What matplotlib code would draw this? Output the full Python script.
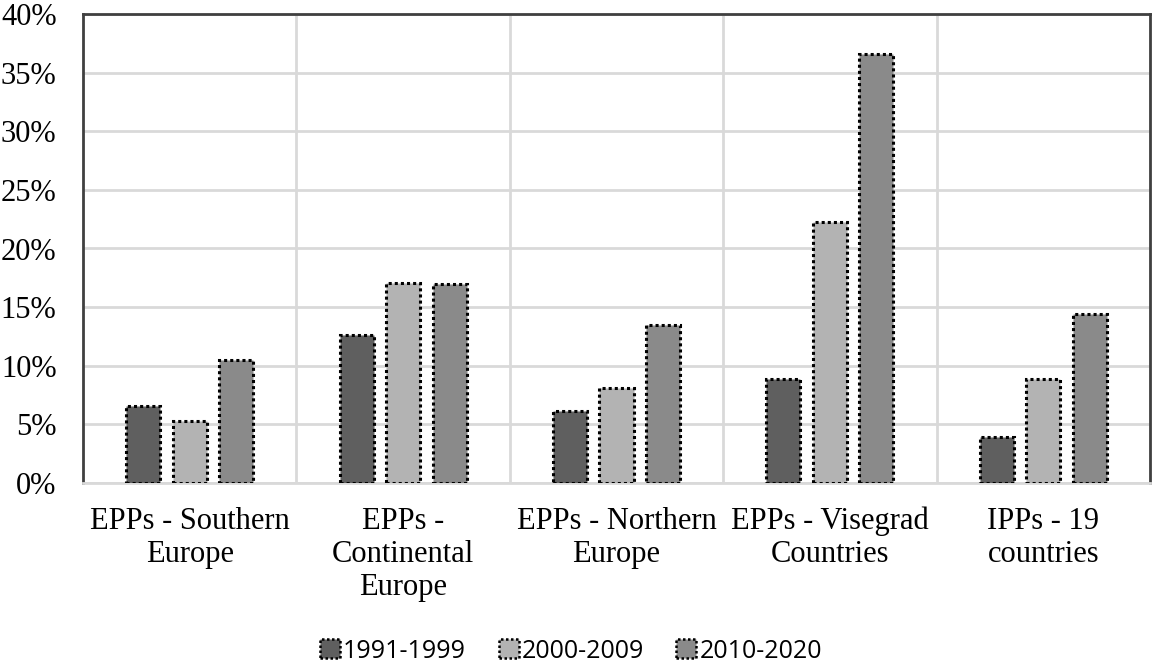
import matplotlib
matplotlib.use("Agg")
import matplotlib.pyplot as plt
import numpy as np

categories = ["EPPs - Southern\nEurope", "EPPs -\nContinental\nEurope", "EPPs - Northern\nEurope",
              "EPPs - Visegrad\nCountries", "IPPs - 19\ncountries"]
series_names = ["1991-1999", "2000-2009", "2010-2020"]
v1991 = [6.6, 12.6, 6.1, 8.9, 3.9]
v2000 = [5.3, 17.1, 8.1, 22.3, 8.9]
v2010 = [10.5, 17.0, 13.5, 36.6, 14.4]
yticks = [0, 5, 10, 15, 20, 25, 30, 35, 40]

colors = ["#5f5f5f", "#b3b3b3", "#8a8a8a"]

fig = plt.figure(figsize=(11.55, 6.66), dpi=100)
ax = fig.add_axes([83/1155, 1 - 483/666, (1150-83)/1155, (483-14)/666])

x = np.arange(len(categories))
w = 0.16
step = 0.218
for i, (vals, c, name) in enumerate(zip([v1991, v2000, v2010], colors, series_names)):
    ax.bar(x + (i - 1) * step, vals, width=w, color=c, edgecolor="black",
           linestyle=(0, (1, 1)), linewidth=2.2, label=name, zorder=3)

ax.set_xlim(-0.5, len(categories) - 0.5)
ax.set_ylim(0, 40)
ax.set_yticks(yticks)
ax.set_yticklabels([f"{t}%" for t in yticks], family="Liberation Serif", fontsize=22)
ax.set_xticks(x)
ax.set_xticklabels(categories, family="Liberation Serif", fontsize=22, linespacing=1.18)
ax.tick_params(axis="y", length=0, pad=19)
ax.tick_params(axis="x", length=0, pad=17)

ax.grid(axis="y", color="#d9d9d9", linewidth=2, zorder=0)
for b in np.arange(0.5, len(categories) - 0.5, 1):
    ax.axvline(b, color="#d9d9d9", linewidth=2, zorder=0)

for s in ["left", "top", "right"]:
    ax.spines[s].set_color("#404040")
    ax.spines[s].set_linewidth(2)
ax.spines["bottom"].set_color("#d9d9d9")
ax.spines["bottom"].set_linewidth(2)

leg = fig.legend(loc="center", bbox_to_anchor=(571/1155, 1 - 651/666), ncol=3, frameon=False,
                 prop={"family": "Open Sans", "size": 18}, handlelength=0.8, handleheight=0.8,
                 columnspacing=1.3, handletextpad=0.12)
for h in leg.legend_handles:
    h.set_linewidth(1.8)

fig.savefig("out.png", dpi=100)
